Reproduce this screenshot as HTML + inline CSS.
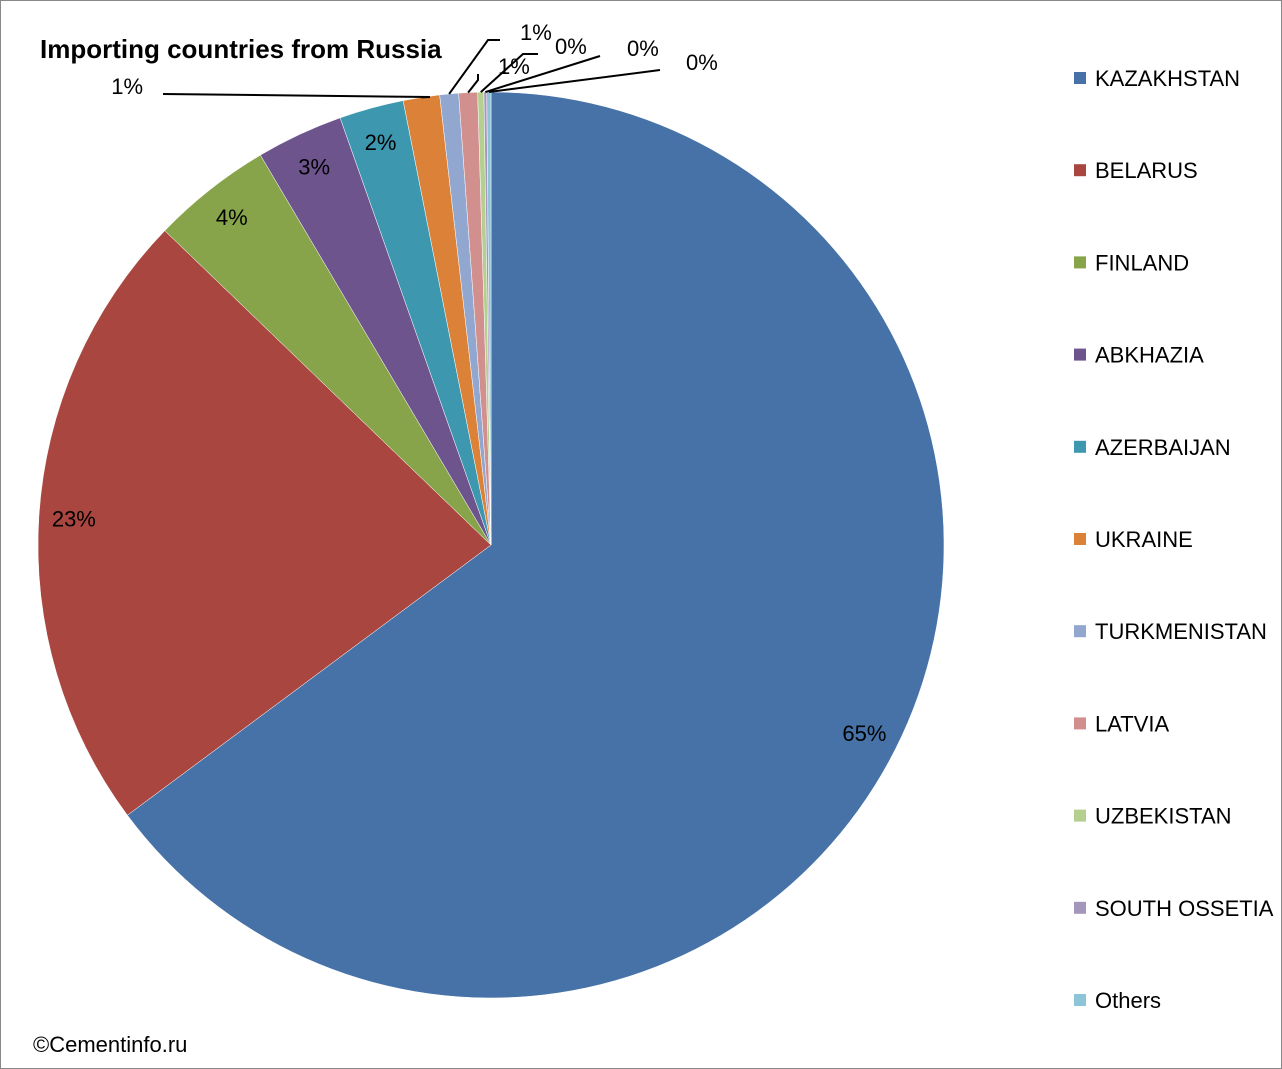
<!DOCTYPE html>
<html><head><meta charset="utf-8"><style>
html,body{margin:0;padding:0;background:#fff}
svg{display:block;font-family:"Liberation Sans",Calibri,sans-serif}
</style></head><body>
<svg id="chart" width="1282" height="1069" viewBox="0 0 1282 1069">
<rect x="0.5" y="0.5" width="1281" height="1068" fill="#fff" stroke="#888"/>
<text x="40" y="58" font-size="26" font-weight="bold" fill="#000">Importing countries from Russia</text>
<text x="33" y="1052" font-size="22" fill="#000">©Cementinfo.ru</text>
<g id="slices"></g><g id="labels"></g><g id="legend"></g>
</svg>
<script>
const categories=["KAZAKHSTAN","BELARUS","FINLAND","ABKHAZIA","AZERBAIJAN","UKRAINE","TURKMENISTAN","LATVIA","UZBEKISTAN","SOUTH OSSETIA","Others"];
const values=[64.9,22.4,4.3,3.1,2.3,1.3,0.67,0.67,0.22,0.1,0.15];
const valueLabels=["65%","23%","4%","3%","2%","1%","1%","1%","0%","0%","0%"];
const colors=["#4672a8","#a9463f","#87a44a","#6e548d","#3d97ae","#db8138","#91a7cf","#d18f8d","#b5cf91","#a497bb","#8dc4d8"];
// external label text positions (null = inside)
const outside=[null,null,null,null,null,[143,94,163,94,430,97],[520,40,500,40,488,40],[498,74,478,74,478,80],[555,54,538,54,523,54],[627,56,600,56,600,56],[686,70,660,70,660,70]];
const NS="http://www.w3.org/2000/svg";
const cx=491,cy=545,R=453;
const total=values.reduce((a,b)=>a+b,0);
function pt(a,r){return [cx+r*Math.sin(a),cy-r*Math.cos(a)];}
const gs=document.getElementById('slices'),gl=document.getElementById('labels'),gg=document.getElementById('legend');
let a0=0;
values.forEach((v,i)=>{
  const a1=a0+v/total*2*Math.PI;
  const p0=pt(a0,R),p1=pt(a1,R);
  const path=document.createElementNS(NS,'path');
  path.setAttribute('d',`M${cx},${cy}L${p0[0]},${p0[1]}A${R},${R} 0 ${a1-a0>Math.PI?1:0} 1 ${p1[0]},${p1[1]}Z`);
  path.setAttribute('fill',colors[i]);
  path.setAttribute('stroke','#fff');
  path.setAttribute('stroke-width','0.5');
  
  
  gs.appendChild(path);
  const am=(a0+a1)/2;
  const t=document.createElementNS(NS,'text');
  t.setAttribute('font-size','22');
  
  
  t.textContent=valueLabels[i];
  if(!outside[i]){
    const p=pt(am,418);
    t.setAttribute('x',p[0]);t.setAttribute('y',p[1]+8);t.setAttribute('text-anchor','middle');
  } else {
    const o=outside[i];const e=pt(am,R);
    const l=document.createElementNS(NS,'polyline');
    l.setAttribute('points',`${o[2]},${o[3]} ${o[4]},${o[5]} ${e[0]},${e[1]}`);
    l.setAttribute('fill','none');l.setAttribute('stroke','#000');l.setAttribute('stroke-width','2');
    
    
    gl.appendChild(l);
    t.setAttribute('x',o[0]);t.setAttribute('y',o[1]);
    if(o[0]<o[2])t.setAttribute('text-anchor','end');
  }
  gl.appendChild(t);
  a0=a1;
});
categories.forEach((c,i)=>{
  const y=78+i*92.2;
  const g=document.createElementNS(NS,'g');
  
  
  const r=document.createElementNS(NS,'rect');
  r.setAttribute('x',1074);r.setAttribute('y',y-6);r.setAttribute('width',12);r.setAttribute('height',12);r.setAttribute('fill',colors[i]);
  
  
  const t=document.createElementNS(NS,'text');
  t.setAttribute('x',1095);t.setAttribute('y',y+8);t.setAttribute('font-size','22');t.textContent=c;
  
  
  g.appendChild(r);g.appendChild(t);gg.appendChild(g);
});
</script>
</body></html>
